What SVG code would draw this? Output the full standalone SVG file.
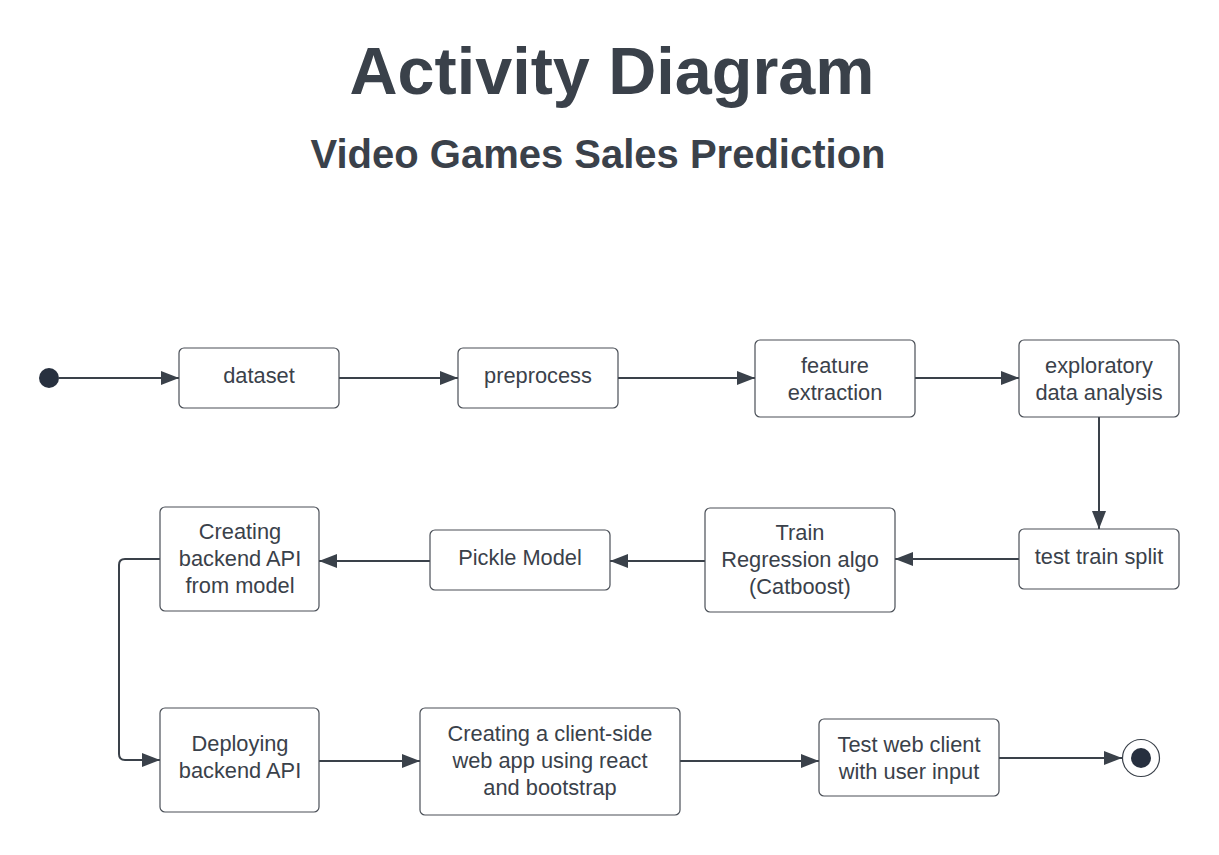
<svg xmlns="http://www.w3.org/2000/svg" width="1219" height="855" viewBox="0 0 1219 855">
<style>
.title{font-family:"Liberation Sans",Arial,sans-serif;font-weight:bold;fill:#3a414a;text-anchor:middle}
.box{fill:#ffffff;stroke:#4a4f57;stroke-width:1.2}
.lbl{font-family:"Liberation Sans",Arial,sans-serif;font-size:21.8px;fill:#3a414a;text-anchor:middle}
.edge{fill:none;stroke:#3a414a;stroke-width:2}
</style>
<defs>
<marker id="arr" viewBox="0 0 18 14" refX="18" refY="7" markerWidth="18" markerHeight="14" markerUnits="userSpaceOnUse" orient="auto">
<path d="M0,0 L18,7 L0,14 Z" fill="#3a414a"/>
</marker>
</defs>
<rect width="1219" height="855" fill="#ffffff"/>
<text class="title" x="612" y="94" font-size="66.5">Activity Diagram</text>
<text class="title" x="598" y="168" font-size="40">Video Games Sales Prediction</text>

<g id="connectors">
<path class="edge" d="M59,378 H179" marker-end="url(#arr)"/>
<path class="edge" d="M339,378 H458" marker-end="url(#arr)"/>
<path class="edge" d="M618,378 H755" marker-end="url(#arr)"/>
<path class="edge" d="M915,378 H1019" marker-end="url(#arr)"/>
<path class="edge" d="M1099,417 V529" marker-end="url(#arr)"/>
<path class="edge" d="M1019,559 H895" marker-end="url(#arr)"/>
<path class="edge" d="M705,561 H610" marker-end="url(#arr)"/>
<path class="edge" d="M430,561 H319" marker-end="url(#arr)"/>
<path class="edge" d="M160,559 H125 Q119,559 119,565 V754 Q119,760 125,760 H160" marker-end="url(#arr)"/>
<path class="edge" d="M319,761 H420" marker-end="url(#arr)"/>
<path class="edge" d="M680,761 H819" marker-end="url(#arr)"/>
<path class="edge" d="M999,758 H1122" marker-end="url(#arr)"/>
</g>

<g id="start"><circle cx="49" cy="378" r="10" fill="#27303f"/></g>

<g id="dataset"><rect class="box" x="179" y="348" width="160" height="60" rx="5"/><text class="lbl" x="259" y="383">dataset</text></g>
<g id="preprocess"><rect class="box" x="458" y="348" width="160" height="60" rx="5"/><text class="lbl" x="538" y="383">preprocess</text></g>
<g id="feature"><rect class="box" x="755" y="340" width="160" height="77" rx="5"/><text class="lbl" x="835" y="373">feature</text><text class="lbl" x="835" y="400">extraction</text></g>
<g id="eda"><rect class="box" x="1019" y="340" width="160" height="77" rx="5"/><text class="lbl" x="1099" y="373">exploratory</text><text class="lbl" x="1099" y="400">data analysis</text></g>
<g id="tts"><rect class="box" x="1019" y="529" width="160" height="60" rx="5"/><text class="lbl" x="1099" y="564">test train split</text></g>
<g id="train"><rect class="box" x="705" y="508" width="190" height="104" rx="5"/><text class="lbl" x="800" y="540">Train</text><text class="lbl" x="800" y="567">Regression algo</text><text class="lbl" x="800" y="594">(Catboost)</text></g>
<g id="pickle"><rect class="box" x="430" y="530" width="180" height="60" rx="5"/><text class="lbl" x="520" y="565">Pickle Model</text></g>
<g id="backend"><rect class="box" x="160" y="507" width="159" height="104" rx="5"/><text class="lbl" x="240" y="539">Creating</text><text class="lbl" x="240" y="566">backend API</text><text class="lbl" x="240" y="593">from model</text></g>
<g id="deploy"><rect class="box" x="160" y="708" width="159" height="104" rx="5"/><text class="lbl" x="240" y="751">Deploying</text><text class="lbl" x="240" y="778">backend API</text></g>
<g id="client"><rect class="box" x="420" y="708" width="260" height="107" rx="5"/><text class="lbl" x="550" y="741">Creating a client-side</text><text class="lbl" x="550" y="768">web app using react</text><text class="lbl" x="550" y="795">and bootstrap</text></g>
<g id="testweb"><rect class="box" x="819" y="719" width="180" height="77" rx="5"/><text class="lbl" x="909" y="752">Test web client</text><text class="lbl" x="909" y="779">with user input</text></g>

<g id="end"><circle cx="1141" cy="758" r="18.5" fill="#ffffff" stroke="#3a414a" stroke-width="1.2"/><circle cx="1141" cy="758" r="10" fill="#27303f"/></g>
</svg>
